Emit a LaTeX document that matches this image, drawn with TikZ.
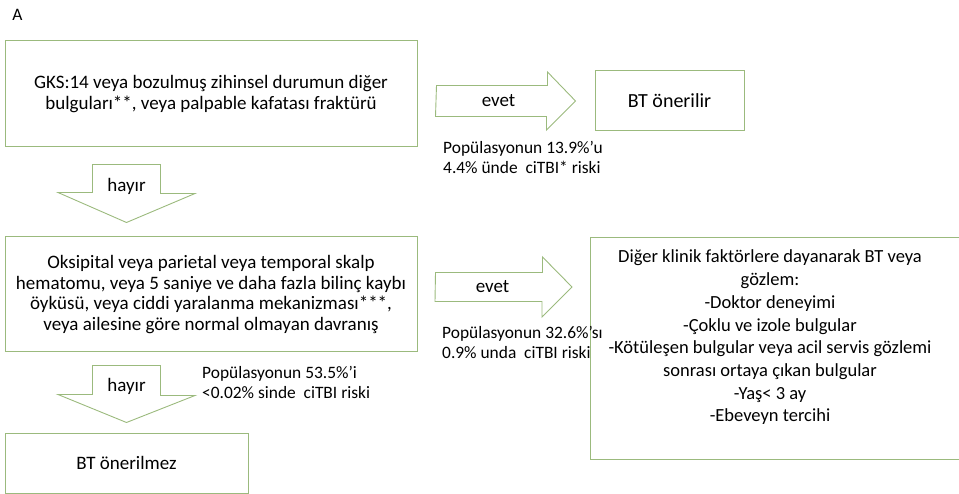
\documentclass[tikz,border=0pt]{standalone}
\usepackage{fontspec}
\setmainfont{Carlito}
\usetikzlibrary{calc}
\definecolor{boxgreen}{RGB}{155,186,125}
\tikzset{every node/.style={inner sep=0pt, font=\fontsize{19}{20.5}\selectfont}, box/.style={draw=boxgreen, line width=1pt, align=center}, blk/.style={draw=boxgreen, line width=0.9pt, line join=miter}, lbl/.style={align=left, anchor=west, font=\fontsize{17.4}{20}\selectfont}}

\begin{document}
\begin{tikzpicture}[x=1pt,y=-1pt]
   \useasboundingbox (0,0) rectangle (959,494);
   \node[font=\fontsize{17.5}{20}\selectfont] (A) at (17.5,15) {A};
   \node[box, minimum width=412, minimum height=106, font=\fontsize{19}{21}\selectfont] (gks) at (211,94)
     {GKS:14 veya bozulmuş zihinsel durumun diğer\\ bulguları**, veya palpable kafatası fraktürü};
   \node[box, minimum width=149, minimum height=60, font=\fontsize{20}{22}\selectfont] (bt) at (669.5,101) {BT önerilir};
   \node[box, minimum width=412, minimum height=115] (osk) at (211,294.5)
     {Oksipital veya parietal veya temporal skalp\\ hematomu, veya 5 saniye ve daha fazla bilinç kaybı\\
      öyküsü, veya ciddi yaralanma mekanizması***,\\ veya ailesine göre normal olmayan davranış};
   \node[box, minimum width=380, minimum height=222, anchor=north west] (obs) at (590,237) {};
   \node[align=center, font=\fontsize{18.5}{22.7}\selectfont] (obstxt) at (770,337.5)
     {Diğer klinik faktörlere dayanarak BT veya\\ gözlem:\\ -Doktor deneyimi\\ -Çoklu ve izole bulgular\\
      -Kötüleşen bulgular veya acil servis gözlemi\\ sonrası ortaya çıkan bulgular\\ -Yaş< 3 ay\\ -Ebeveyn tercihi};
   \node[box, minimum width=243, minimum height=60] (btno) at (126.5,463) {BT önerilmez};
   % evet arrows
   \coordinate (e1s) at ($(gks.east |- bt.west)+(19,0)$);
   \coordinate (e1t) at ($(bt.west)+(-19,0)$);
   \draw[blk] (e1s) ++(0,-15.5) -- ++(111,0) -- ++(0,-13.5) -- (e1t) -- ++(-29,29) -- ++(0,-13.5) -- ++(-111,0) -- cycle;
   \node (evet1) at ($(e1s)+(62,0)$) {evet};
   \coordinate (e2s) at ($(osk.east)+(18,-7.5)$);
   \coordinate (e2t) at ($(e2s -| obs.west)+(-18,0)$);
   \draw[blk] (e2s) ++(0,-14.5) -- ++(107,0) -- ++(0,-15.5) -- (e2t) -- ++(-30,30) -- ++(0,-15.5) -- ++(-107,0) -- cycle;
   \node (evet2) at ($(e2s)+(57,0)$) {evet};
   % hayir arrows
   \coordinate (h1s) at ($(gks.south west)+(122,17)$);
   \coordinate (h1t) at ($(osk.north west)+(122,-14)$);
   \draw[blk] (h1s) ++(-34,0) -- ++(68,0) -- ++(0,29) -- ++(34.5,0) -- (h1t) -- ++(-68.5,-30) -- ++(34.5,0) -- cycle;
   \node (hayir1) at ($(h1s)+(0,22)$) {hayır};
   \coordinate (h2s) at ($(osk.south west)+(122,13)$);
   \coordinate (h2t) at ($(btno.north west)+(122,-10)$);
   \draw[blk] (h2s) ++(-34,0) -- ++(68,0) -- ++(0,30) -- ++(34.5,0) -- (h2t) -- ++(-68.5,-28) -- ++(34.5,0) -- cycle;
   \node (hayir2) at ($(h2s)+(0,21)$) {hayır};
   % populasyon
   \node[lbl] (pop1) at (443,157) {Popülasyonun 13.9\%’u\\ 4.4\% ünde~ ciTBI* riski};
   \node[lbl] (pop2) at (442,342) {Popülasyonun 32.6\%’sı\\ 0.9\% unda~ ciTBI riski};
   \node[lbl] (pop3) at (202,382) {Popülasyonun 53.5\%’i\\ <0.02\% sinde~ ciTBI riski};
\end{tikzpicture}
\end{document}
